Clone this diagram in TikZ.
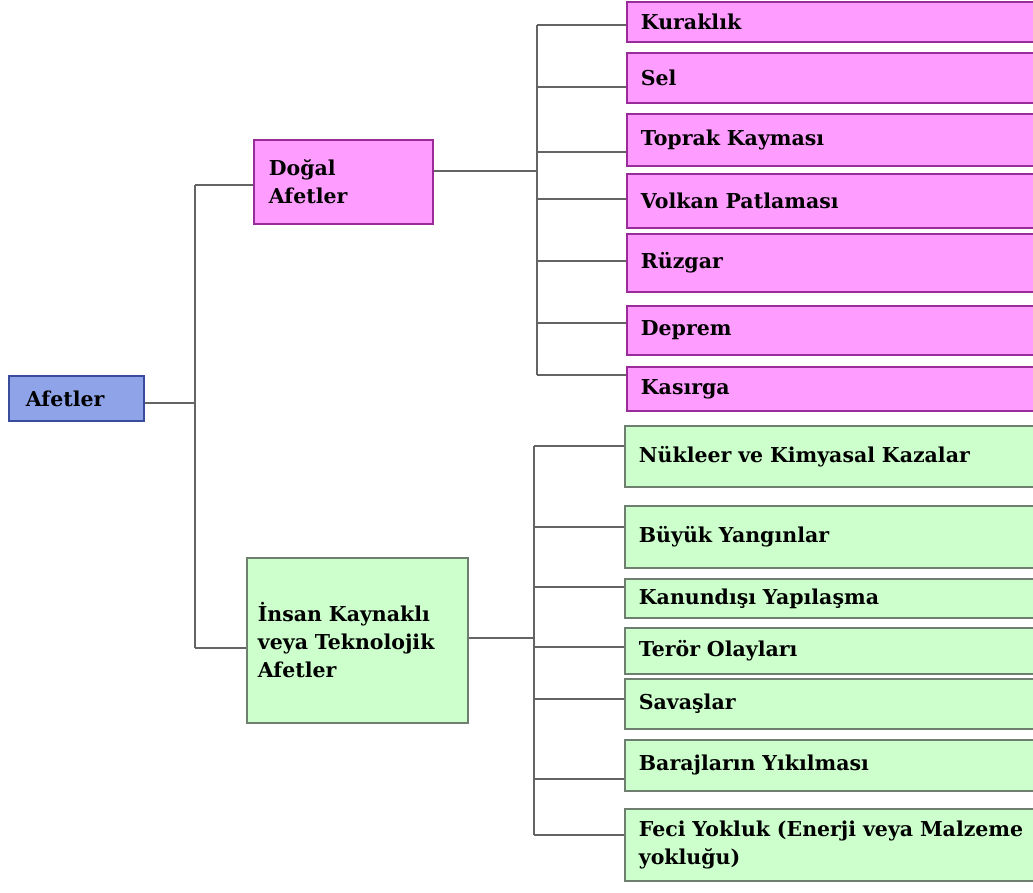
\documentclass[tikz,border=0pt]{standalone}
\usepackage{fontspec}
\setmainfont{DejaVu Serif}
\usetikzlibrary{positioning}
\definecolor{rootfill}{HTML}{8EA3E8}
\definecolor{rootline}{HTML}{3A4C9C}
\definecolor{pinkfill}{HTML}{FF9CFF}
\definecolor{pinkline}{HTML}{9A2C9A}
\definecolor{greenfill}{HTML}{CCFFCC}
\definecolor{greenline}{HTML}{6F7F6F}
\definecolor{wire}{HTML}{646464}

\begin{document}
\begin{tikzpicture}[
  x=1pt, y=-1pt,
  every node/.style={font=\fontsize{20.5}{28}\selectfont\bfseries},
  box/.style={
    rectangle, anchor=north west,
    line width=1.8pt,
    align=left,
    inner ysep=0pt,
  },
  rootbox/.style={box, draw=rootline, fill=rootfill},
  pinkbox/.style={box, draw=pinkline, fill=pinkfill},
  greenbox/.style={box, draw=greenline, fill=greenfill},
  leafbox/.style={inner xsep=14pt, minimum width=480pt, text width=452pt},
  wire/.style={draw=wire, line width=1.9pt},
]
\useasboundingbox (0,0) rectangle (1033,893);
\clip (0,0) rectangle (1033,893);

% main levels
\node[rootbox, inner xsep=17pt, minimum height=45pt, text width=101pt]
  (afet) at (8,375) {Afetler};
\node[pinkbox, inner xsep=15pt, minimum height=84pt, text width=149pt]
  (dogal) at (253,139) {Doğal\\Afetler};
\node[greenbox, inner xsep=11pt, minimum height=165pt, text width=199pt]
  (insan) at (246,557) {İnsan Kaynaklı\\veya Teknolojik\\Afetler};

% bus points
\coordinate (mtop) at (195,185);
\coordinate (mbot) at (195,648);
\coordinate (mroot) at (195,403);
\coordinate (pjoin) at (537,171);
\coordinate (gjoin) at (534,638);

\draw[wire] (mroot -| afet.east) -- (mroot);
\draw[wire] (mtop) -- (mbot);
\draw[wire] (mtop) -- (mtop -| dogal.west);
\draw[wire] (mbot) -- (mbot -| insan.west);
\draw[wire] (pjoin -| dogal.east) -- (pjoin);
\draw[wire] (gjoin -| insan.east) -- (gjoin);

% natural disasters
\foreach \n/\t/\b/\ly/\txt in {
  kurak/1/41/25/Kuraklık,
  sel/52/102/87/Sel,
  toprak/113/165/152/Toprak Kayması,
  volkan/173/227/199/Volkan Patlaması,
  ruzgar/233/291/261/Rüzgar,
  deprem/305/354/323/Deprem,
  kasirga/366/410/375/Kasırga}{
  \pgfmathsetmacro{\hh}{\b-\t}
  \node[pinkbox, leafbox, minimum height=\hh pt] (p-\n) at (626,\t) {\txt};
  \coordinate (pb-\n) at (537,\ly);
  \draw[wire] (pb-\n) -- (pb-\n -| p-\n.west);
}
\draw[wire] (pb-kurak) -- (pb-kasirga);

% human-made disasters
\foreach \n/\t/\b/\ly/\txt in {
  nukleer/425/486/446/Nükleer ve Kimyasal Kazalar,
  yangin/505/567/527/Büyük Yangınlar,
  kanun/578/617/587/Kanundışı Yapılaşma,
  teror/627/673/647/Terör Olayları,
  savas/678/728/699/Savaşlar,
  baraj/739/790/779/Barajların Yıkılması,
  feci/808/880/835/{Feci Yokluk (Enerji veya Malzeme\\yokluğu)}}{
  \pgfmathsetmacro{\hh}{\b-\t}
  \node[greenbox, leafbox, minimum height=\hh pt] (g-\n) at (624,\t) {\txt};
  \coordinate (gb-\n) at (534,\ly);
  \draw[wire] (gb-\n) -- (gb-\n -| g-\n.west);
}
\draw[wire] (gb-nukleer) -- (gb-feci);
\end{tikzpicture}
\end{document}
